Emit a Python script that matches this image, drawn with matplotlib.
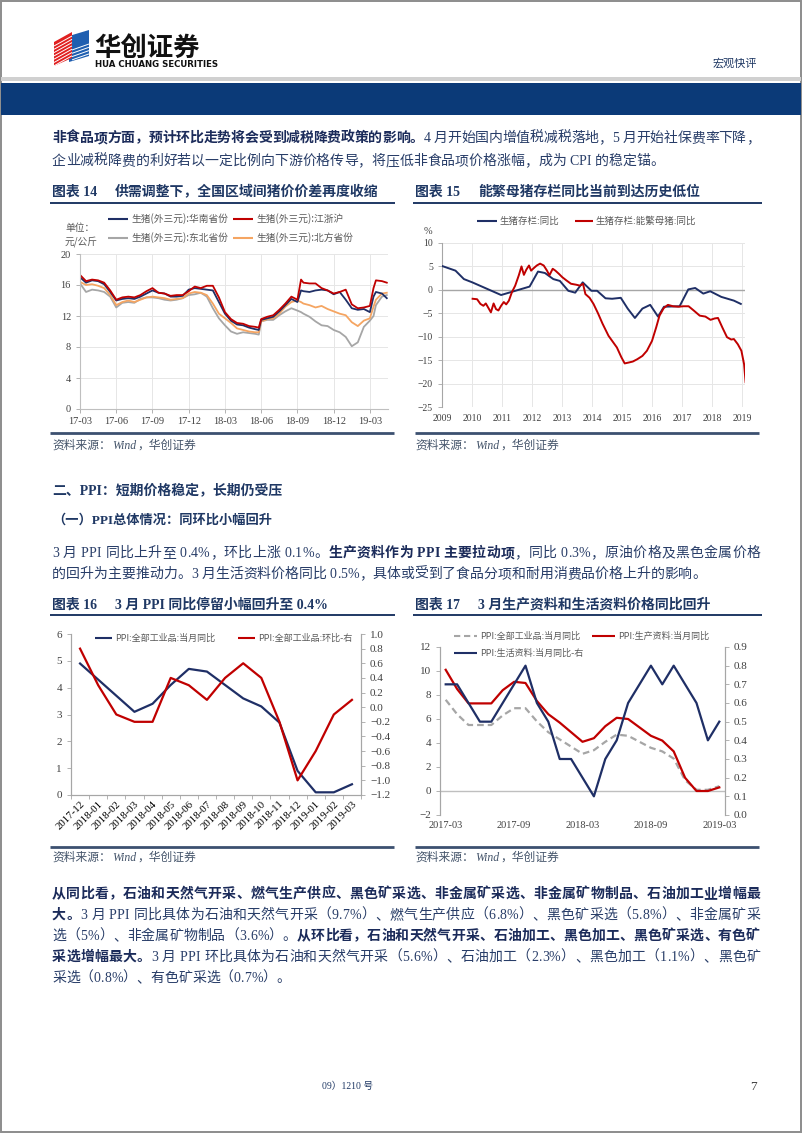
import matplotlib
matplotlib.use('Agg')
import matplotlib.pyplot as plt
from matplotlib.patches import Rectangle, Polygon
from matplotlib.font_manager import FontProperties, findfont, get_font
from matplotlib.ticker import FuncFormatter
import numpy as np

# ---------------- data ----------------
# Chart 14: pig prices (yuan/kg), x = months since 2017-03
pig_t = [0, 0.5, 1, 1.5, 2, 2.5, 3, 3.5, 4, 4.5, 5, 5.5, 6, 6.5, 7, 7.5, 8, 8.5, 9, 9.5,
         10, 10.5, 11, 11.5, 12, 12.5, 13, 13.5, 14, 14.5, 14.8, 15, 15.5, 16, 16.5, 17, 17.5, 18,
         18.3, 18.5, 19, 19.5, 20, 20.5, 21, 21.5, 22, 22.5, 23, 23.5, 24, 24.3, 24.5, 25, 25.4]
pig_south = [17.0, 16.3, 16.6, 16.5, 16.1, 15.1, 14.0, 14.2, 14.3, 14.2,
             14.5, 14.9, 15.3, 15.0, 14.9, 14.5, 14.5, 14.6, 15.4, 15.6,
             15.5, 15.4, 15.3, 13.8, 12.3, 11.4, 10.9, 10.8, 10.5, 10.3,
             10.2, 11.5, 11.7, 11.9, 12.6, 13.4, 14.2, 13.8,
             15.3, 15.2, 15.1, 15.3, 15.4, 15.3, 14.8, 15.1, 14.1, 13.0, 12.8, 12.9, 12.5,
             14.5, 15.1, 14.9, 14.3]
pig_jzh = [17.3, 16.5, 16.7, 16.6, 16.3, 15.3, 14.1, 14.4, 14.5, 14.4,
           14.7, 15.2, 15.6, 15.0, 14.9, 14.6, 14.7, 14.7, 15.2, 15.8,
           15.6, 15.9, 15.9, 14.4, 12.5, 11.6, 11.1, 11.0, 10.7, 10.6,
           10.5, 11.6, 11.9, 12.1, 12.8, 13.6, 14.5, 14.1,
           16.7, 16.3, 16.2, 16.2, 15.6, 15.3, 14.9, 15.1, 15.4, 13.5, 13.0, 13.1, 13.3,
           15.6, 16.6, 16.5, 16.3]
pig_northeast = [16.2, 15.1, 15.4, 15.3, 15.1, 14.5, 13.1, 13.7, 13.8, 13.7,
                 14.2, 14.4, 14.4, 14.3, 14.1, 14.0, 14.1, 14.3, 14.7, 14.8,
                 15.0, 14.5, 13.0, 11.7, 10.8, 10.0, 9.7, 9.9, 9.8, 9.7,
                 9.6, 11.3, 11.5, 11.5, 12.1, 12.6, 13.0, 12.7,
                 12.5, 12.3, 11.9, 11.3, 10.8, 10.7, 10.2, 9.9, 9.3, 8.1, 8.6, 10.6, 11.4,
                 12.0, 13.4, 14.5, 14.7]
pig_north = [16.4, 16.0, 16.1, 15.9, 15.6, 14.7, 13.4, 13.8, 14.0, 13.8,
             14.1, 14.4, 14.5, 14.4, 14.3, 14.1, 14.2, 14.3, 14.9, 15.1,
             15.0, 14.7, 13.6, 12.3, 11.7, 11.1, 10.4, 10.2, 10.0, 9.9,
             9.9, 11.3, 11.6, 11.7, 12.3, 13.2, 13.8, 14.0,
             13.8, 13.6, 13.4, 13.1, 13.3, 12.9, 12.6, 12.3, 12.1, 11.2, 10.7, 11.4, 11.7,
             13.2, 14.1, 14.9, 15.0]
pig_tick_pos = [0, 3, 6, 9, 12, 15, 18, 21, 24]
pig_tick_labels = ['17-03', '17-06', '17-09', '17-12', '18-03', '18-06', '18-09', '18-12', '19-03']
pig_names = ['生猪(外三元):华南省份', '生猪(外三元):江浙沪', '生猪(外三元):东北省份', '生猪(外三元):北方省份']

# Chart 15: hog / sow inventory yoy (%), x = decimal year
hog_t = [2009.00, 2009.45, 2009.73, 2010.01, 2010.97, 2011.92, 2012.20, 2012.43, 2012.71, 2012.93,
         2013.21, 2013.44, 2013.69, 2013.98, 2014.17, 2014.45, 2014.67, 2014.96, 2015.19, 2015.43,
         2015.68, 2015.94, 2016.20, 2016.40, 2016.92, 2017.21, 2017.44, 2017.71, 2017.94, 2018.31,
         2018.73, 2018.96]
hog_yoy = [5.1, 4.1, 2.3, 1.6, -1.1, 0.7, 3.9, 3.6, 2.3, 1.9,
           -0.2, -0.6, 1.6, -0.2, -0.2, -1.8, -1.9, -1.7, -4.0, -6.0,
           -4.0, -3.2, -5.7, -3.6, -3.5, 0.1, 0.4, -0.8, -0.3, -1.5,
           -2.3, -3.0]
sow_t = [2010.02, 2010.17, 2010.28, 2010.38, 2010.46, 2010.55, 2010.63, 2010.72, 2010.80, 2010.88,
         2010.97, 2011.06, 2011.14, 2011.23, 2011.33, 2011.44, 2011.56, 2011.65, 2011.73, 2011.81,
         2011.90, 2011.97, 2012.07, 2012.16, 2012.27, 2012.39, 2012.50, 2012.58, 2012.69, 2012.78,
         2012.90, 2013.01, 2013.15, 2013.30, 2013.47, 2013.60, 2013.70, 2013.78, 2013.92,
         2014.05, 2014.20, 2014.35, 2014.55, 2014.83, 2014.98, 2015.09, 2015.23, 2015.36, 2015.51,
         2015.68, 2015.83, 2016.00, 2016.14, 2016.25, 2016.39, 2016.53, 2016.70, 2016.88, 2017.05,
         2017.22, 2017.39, 2017.59, 2017.78, 2017.95, 2018.09, 2018.20, 2018.35, 2018.50, 2018.64,
         2018.73, 2018.86, 2018.98, 2019.07, 2019.12]
sow_yoy = [-1.9, -2.0, -3.0, -3.4, -2.9, -3.9, -4.8, -2.9, -4.1, -4.4,
           -3.4, -2.6, -3.1, -2.3, -0.5, 0.9, 3.1, 5.0, 3.2, 4.3,
           5.2, 4.1, 4.7, 5.2, 5.6, 5.2, 4.1, 3.1, 4.5, 4.1,
           3.4, 2.7, 2.0, 1.3, 1.1, 0.9, 1.3, -0.9, -1.7,
           -3.0, -5.0, -7.2, -9.8, -12.3, -14.4, -15.7, -15.5, -15.3, -14.8,
           -14.1, -13.0, -10.9, -8.0, -5.5, -3.9, -3.2, -3.5, -3.6, -3.5,
           -3.5, -4.4, -5.5, -5.7, -6.4, -6.1, -6.0, -8.1, -10.1, -10.6,
           -10.5, -11.6, -13.0, -15.9, -19.7]
hog_years = list(range(2009, 2020))
hog_names = ['生猪存栏:同比', '生猪存栏:能繁母猪:同比']

# Chart 16
ppi16_months = ['2017-12', '2018-01', '2018-02', '2018-03', '2018-04', '2018-05', '2018-06', '2018-07',
                '2018-08', '2018-09', '2018-10', '2018-11', '2018-12', '2019-01', '2019-02', '2019-03']
ppi16_yoy = [4.9, 4.3, 3.7, 3.1, 3.4, 4.1, 4.7, 4.6, 4.1, 3.6, 3.3, 2.7, 0.9, 0.1, 0.1, 0.4]
ppi16_mom = [0.8, 0.3, -0.1, -0.2, -0.2, 0.4, 0.3, 0.1, 0.4, 0.6, 0.4, -0.2, -1.0, -0.6, -0.1, 0.1]
ppi16_names = ['PPI:全部工业品:当月同比', 'PPI:全部工业品:环比-右']

# Chart 17 (2017-03 .. 2019-03)
ppi17_yoy = [7.6, 6.4, 5.5, 5.5, 5.5, 6.3, 6.9, 6.9, 5.8, 4.9, 4.3, 3.7, 3.1, 3.4, 4.1, 4.7, 4.6,
             4.1, 3.6, 3.3, 2.7, 0.9, 0.1, 0.1, 0.4]
ppi17_producer = [10.1, 8.5, 7.3, 7.3, 7.3, 8.4, 9.1, 9.0, 7.5, 6.4, 5.7, 4.9, 4.1, 4.4, 5.4, 6.1,
                  6.0, 5.3, 4.6, 4.2, 3.3, 1.1, 0.0, 0.0, 0.3]
ppi17_consumer = [0.7, 0.7, 0.6, 0.5, 0.5, 0.6, 0.7, 0.8, 0.6, 0.5, 0.3, 0.3, 0.2, 0.1, 0.3, 0.4,
                  0.6, 0.7, 0.8, 0.7, 0.8, 0.7, 0.6, 0.4, 0.5]
ppi17_tick_pos = [0, 6, 12, 18, 24]
ppi17_tick_labels = ['2017-03', '2017-09', '2018-03', '2018-09', '2019-03']
ppi17_names = ['PPI:全部工业品:当月同比', 'PPI:生产资料:当月同比', 'PPI:生活资料:当月同比-右']

# ---------------- style ----------------
W, H = 802, 1133
CJK = 'Noto Sans CJK SC'
SERIF = 'Liberation Serif'
FAM = [SERIF, CJK]
plt.rcParams['font.family'] = FAM
plt.rcParams['axes.unicode_minus'] = True

NAVY = '#1f2f66'
RED = '#c00000'
GRAY = '#a6a6a6'
ORANGE = '#f5a562'
TITLE_C = '#1f3864'
TXT_N = '#283d68'
TXT_B = '#1b2b5a'
TICK_C = '#404040'
LEG_C = '#595959'

fig = plt.figure(figsize=(W / 100, H / 100), dpi=100)


def px_ax(x0, y0, x1, y1):
    return fig.add_axes([x0 / W, 1 - y1 / H, (x1 - x0) / W, (y1 - y0) / H])


# ---------------- charts ----------------
def style_ticks(ax, size):
    ax.tick_params(labelsize=size, colors=TICK_C, length=3, width=0.6)
    ax.tick_params(axis='both', color='#a6a6a6')


# Chart 14
ax = px_ax(80, 254, 388, 409)
ax.plot(pig_t, pig_northeast, color=GRAY, lw=1.3)
ax.plot(pig_t, pig_north, color=ORANGE, lw=1.3)
ax.plot(pig_t, pig_south, color=NAVY, lw=1.3)
ax.plot(pig_t, pig_jzh, color=RED, lw=1.3)
ax.set_xlim(0, 25.5)
ax.set_ylim(0, 20)
ax.set_yticks([0, 4, 8, 12, 16, 20])
ax.set_xticks(pig_tick_pos)
ax.set_xticklabels(pig_tick_labels)
ax.grid(True, color='#e6e6e6', lw=0.7)
ax.set_axisbelow(True)
for s in ['top', 'right']:
    ax.spines[s].set_visible(False)
for s in ['left', 'bottom']:
    ax.spines[s].set_color('#bfbfbf')
style_ticks(ax, 7.5)
ax.tick_params(axis='x', pad=3)

# Chart 15
ax = px_ax(442, 243, 745, 407)
ax.axhline(0, color='#a6a6a6', lw=1.0, zorder=1)
ax.plot(hog_t, hog_yoy, color=NAVY, lw=1.4, zorder=3)
ax.plot(sow_t, sow_yoy, color=RED, lw=1.4, zorder=3)
ax.set_xlim(2009, 2019.1)
ax.set_ylim(-25, 10)
ax.set_yticks(list(range(-25, 11, 5)))
ax.set_xticks(hog_years)
ax.set_xticklabels([str(y) for y in hog_years])
ax.grid(True, color='#e6e6e6', lw=0.7)
ax.set_axisbelow(True)
for s in ['top', 'right', 'bottom']:
    ax.spines[s].set_visible(False)
ax.spines['left'].set_color('#a6a6a6')
style_ticks(ax, 7)
ax.tick_params(axis='x', length=0, pad=5)


def fmt1(v, pos):
    if abs(v) < 1e-9:
        v = 0.0
    return f'{v:.1f}'.replace('-', '\u2212')


# Chart 16
ax = px_ax(71, 634, 361, 795)
ax2 = ax.twinx()
x16 = np.arange(len(ppi16_months))
ax.plot(x16, ppi16_yoy, color=NAVY, lw=1.6)
ax2.plot(x16, ppi16_mom, color=RED, lw=1.6)
ax.set_xlim(-0.5, len(ppi16_months) - 0.5)
ax.set_ylim(0, 6)
ax.set_yticks(range(0, 7))
ax2.set_ylim(-1.2, 1.0)
ax2.set_yticks([-1.2, -1.0, -0.8, -0.6, -0.4, -0.2, 0.0, 0.2, 0.4, 0.6, 0.8, 1.0])
ax2.yaxis.set_major_formatter(FuncFormatter(fmt1))
ax.set_xticks(np.arange(-0.5, len(ppi16_months), 1))
ax.set_xticklabels([])
ax.set_xticks(x16, minor=True)
ax.set_xticklabels(ppi16_months, minor=True)
for a in (ax, ax2):
    a.spines['top'].set_visible(False)
    for s in ['left', 'right', 'bottom']:
        a.spines[s].set_color('#a6a6a6')
    style_ticks(a, 8)
ax.tick_params(axis='x', which='minor', length=0, labelsize=7.8, pad=3)
for lbl in ax.get_xticklabels(minor=True):
    lbl.set_rotation(45)
    lbl.set_ha('right')
    lbl.set_va('top')
    lbl.set_rotation_mode('anchor')

# Chart 17
ax = px_ax(440, 647, 725, 815)
ax2 = ax.twinx()
x17 = np.arange(len(ppi17_yoy))
ax.axhline(0, color='#bfbfbf', lw=1.0, zorder=1)
ax.plot(x17, ppi17_yoy, color=GRAY, lw=1.6, ls=(0, (3, 1.8)))
ax.plot(x17, ppi17_producer, color=RED, lw=1.6)
ax2.plot(x17, ppi17_consumer, color=NAVY, lw=1.6)
ax.set_xlim(-0.5, len(ppi17_yoy) - 0.5)
ax.set_ylim(-2, 12)
ax.set_yticks(range(-2, 13, 2))
ax2.set_ylim(0, 0.9)
ax2.set_yticks([0.0, 0.1, 0.2, 0.3, 0.4, 0.5, 0.6, 0.7, 0.8, 0.9])
ax2.yaxis.set_major_formatter(FuncFormatter(fmt1))
ax.set_xticks(ppi17_tick_pos)
ax.set_xticklabels(ppi17_tick_labels)
for a in (ax, ax2):
    for s in ['top', 'bottom']:
        a.spines[s].set_visible(False)
    for s in ['left', 'right']:
        a.spines[s].set_color('#a6a6a6')
    style_ticks(a, 8)
ax.tick_params(axis='x', length=0, pad=4, labelsize=7.5)

# ---------------- overlay page ----------------
ov = fig.add_axes([0, 0, 1, 1], zorder=10)
ov.set_xlim(0, W)
ov.set_ylim(H, 0)
ov.set_autoscale_on(False)
ov.axis('off')
ov.patch.set_alpha(0)

# border
ov.add_patch(Rectangle((0.7, 0.7), W - 1.4, H - 1.4, fill=False, ec='#8c8c8c', lw=1.4))
# header band
ov.add_patch(Rectangle((1, 77), W - 2, 4, color='#d0d0d0', lw=0))
ov.add_patch(Rectangle((1, 83), W - 2, 32, color='#0b3a78', lw=0))

# logo
ov.add_patch(Polygon([(69, 36), (89, 30), (89, 56), (69, 62)], closed=True, color='#1f5fb0', lw=0))
ov.add_patch(Polygon([(54, 42), (72, 32), (72, 58), (54, 66)], closed=True, color='#e02020', lw=0))
for k in range(7):
    ov.plot([54, 72], [46 + 3.3 * k, 36 + 3.3 * k], color='white', lw=0.7, solid_capstyle='butt')
for k in range(4):
    ov.plot([72, 89], [50 + 3.3 * k, 44 + 3.3 * k], color='white', lw=0.7, solid_capstyle='butt')
ov.text(94, 56, '华创证券', fontsize=19, family=[CJK], fontweight='bold', color='#111111',
        ha='left', va='baseline')
ov.text(95, 67, 'HUA CHUANG SECURITIES', fontsize=6.2, family=['Liberation Sans Narrow', 'DejaVu Sans'],
        fontweight='bold', color='#111111', ha='left', va='baseline')
ov.text(757, 67, '宏观快评', fontsize=8, family=[CJK], color=TITLE_C, ha='right', va='baseline')

# --- justified body text helper ---
_fcache = {}


def adv(ch, size, bold):
    if ord(ch) >= 0x2E80:
        return size * 100 / 72
    key = bold
    if key not in _fcache:
        fp = FontProperties(family=SERIF, weight='bold' if bold else 'normal')
        _fcache[key] = get_font(findfont(fp))
    f = _fcache[key]
    try:
        f.set_size(size, 100)
        g = f.load_char(ord(ch))
        return g.linearHoriAdvance / 65536
    except Exception:
        return size * 100 / 72 * 0.5


def draw_line(y, segs, x0=52, x1=None, size=10):
    chars = [(c, b) for s, b in segs for c in s]
    ws = [adv(c, size, b) for c, b in chars]
    gap = 0
    if x1 is not None and len(chars) > 1:
        gap = (x1 - x0 - sum(ws)) / (len(chars) - 1)
    x = x0
    base = y + 0.36 * size * 100 / 72
    for (c, b), w in zip(chars, ws):
        if c != ' ':
            ov.text(x, base, c, fontsize=size, family=FAM, fontweight='bold' if b else 'normal',
                    color=TXT_B if b else TXT_N, ha='left', va='baseline')
        x += w + gap


B, N = True, False
RIGHT = 760
draw_line(137, [('非食品项方面，预计环比走势将会受到减税降费政策的影响。', B),
                ('4 月开始国内增值税减税落地，5 月开始社保费率下降，', N)], x1=RIGHT)
draw_line(160, [('企业减税降费的利好若以一定比例向下游价格传导，将压低非食品项价格涨幅，成为 CPI 的稳定锚。', N)])

draw_line(552, [('3 月 PPI 同比上升至 0.4%，环比上涨 0.1%。', N), ('生产资料作为 PPI 主要拉动项', B),
                ('，同比 0.3%，原油价格及黑色金属价格', N)], x1=RIGHT)
draw_line(573, [('的回升为主要推动力。3 月生活资料价格同比 0.5%，具体或受到了食品分项和耐用消费品价格上升的影响。', N)])

draw_line(893, [('从同比看，石油和天然气开采、燃气生产供应、黑色矿采选、非金属矿采选、非金属矿物制品、石油加工业增幅最', B)],
          x1=RIGHT)
draw_line(914, [('大。', B), ('3 月 PPI 同比具体为石油和天然气开采（9.7%）、燃气生产供应（6.8%）、黑色矿采选（5.8%）、非金属矿采', N)],
          x1=RIGHT)
draw_line(935, [('选（5%）、非金属矿物制品（3.6%）。', N), ('从环比看，石油和天然气开采、石油加工、黑色加工、黑色矿采选、有色矿', B)],
          x1=RIGHT)
draw_line(956, [('采选增幅最大。', B), ('3 月 PPI 环比具体为石油和天然气开采（5.6%）、石油加工（2.3%）、黑色加工（1.1%）、黑色矿', N)],
          x1=RIGHT)
draw_line(977, [('采选（0.8%）、有色矿采选（0.7%）。', N)])

# headings
ov.text(52, 494, '二、PPI：短期价格稳定，长期仍受压', fontsize=10, family=FAM, fontweight='bold',
        color=TITLE_C, ha='left', va='baseline')
ov.text(52, 524, '（一）PPI总体情况：同环比小幅回升', fontsize=9.5, family=FAM, fontweight='bold',
        color=TITLE_C, ha='left', va='baseline')


def chart_title(x, y, num, text):
    ov.text(x, y + 5, '图表 ' + num, fontsize=10, family=FAM, fontweight='bold', color=TITLE_C,
            ha='left', va='baseline')
    ov.text(x + 63, y + 5, text, fontsize=10, family=FAM, fontweight='bold', color=TITLE_C,
            ha='left', va='baseline')


chart_title(52, 191, '14', '供需调整下，全国区域间猪价价差再度收缩')
chart_title(415, 191, '15', '能繁母猪存栏同比当前到达历史低位')
chart_title(52, 604, '16', '3 月 PPI 同比停留小幅回升至 0.4%')
chart_title(415, 604, '17', '3 月生产资料和生活资料价格同比回升')

for y in (203, 615):
    ov.plot([50, 395], [y, y], color=TITLE_C, lw=1.4, solid_capstyle='butt')
    ov.plot([413, 762], [y, y], color=TITLE_C, lw=1.4, solid_capstyle='butt')
for y in (433, 847):
    ov.plot([50, 394], [y, y], color='#3c5070', lw=2.0, solid_capstyle='butt')
    ov.plot([415, 759], [y, y], color='#3c5070', lw=2.0, solid_capstyle='butt')
for x, y in ((52, 449), (415, 449), (52, 861), (415, 861)):
    ov.text(x, y, '资料来源：', fontsize=8.5, family=[CJK], color='#44546a', ha='left', va='baseline')
    ov.text(x + 60, y, 'Wind', fontsize=8.5, family=[SERIF], fontstyle='italic', color='#44546a',
            ha='left', va='baseline')
    ov.text(x + 85, y, '，华创证券', fontsize=8.5, family=[CJK], color='#44546a', ha='left', va='baseline')


# legends
def leg(x0, x1, y, color, text, ls='-', lw=1.5, size=7):
    ov.plot([x0, x1], [y, y], color=color, lw=lw, ls=ls, solid_capstyle='butt')
    ov.text(x1 + 3, y, text, fontsize=size, family=[CJK], color=LEG_C, ha='left', va='center')


leg(108, 128, 219, NAVY, pig_names[0])
leg(233, 253, 219, RED, pig_names[1])
leg(108, 128, 238, GRAY, pig_names[2])
leg(233, 253, 238, ORANGE, pig_names[3])
ov.text(65, 228, '单位：', fontsize=7, family=[CJK], color=LEG_C, ha='left', va='center')
ov.text(65, 242, '元/公斤', fontsize=7, family=[CJK], color=LEG_C, ha='left', va='center')

leg(477, 497, 221, NAVY, hog_names[0], size=6.8)
leg(575, 593, 221, RED, hog_names[1], size=6.8)
ov.text(424, 231, '%', fontsize=7.5, family=[SERIF], color=TICK_C, ha='left', va='center')

leg(95, 112, 638, NAVY, ppi16_names[0], size=6.5)
leg(238, 255, 638, RED, ppi16_names[1], size=6.5)

leg(454, 477, 636, GRAY, ppi17_names[0], ls=(0, (3, 1.8)), size=6.5)
leg(592, 615, 636, RED, ppi17_names[1], size=6.5)
leg(454, 477, 653, NAVY, ppi17_names[2], size=6.5)

# footer
ov.text(322, 1089, '09）1210 号', fontsize=7, family=FAM, color=TITLE_C, ha='left', va='baseline')
ov.text(757, 1090, '7', fontsize=9.5, family=[SERIF], color=TICK_C, ha='right', va='baseline')

fig.savefig('out.png', dpi=100)
